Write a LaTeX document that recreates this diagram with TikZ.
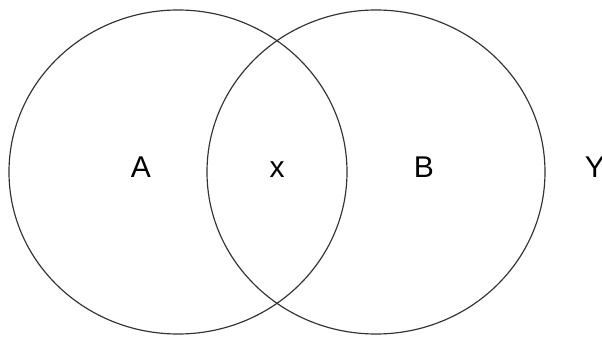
\documentclass[tikz,border=0pt]{standalone}
\usepackage{fontspec}
\setmainfont{Liberation Sans}
\usetikzlibrary{shapes.geometric}
\tikzset{
  setcirc/.style={ellipse, draw=black!80, line width=1pt, minimum width=10.14cm, minimum height=9.72cm, inner sep=0pt},
  lbl/.style={anchor=base, inner sep=0pt, font=\fontsize{25.6}{30}\selectfont},
}
\begin{document}
\begin{tikzpicture}[x=0.03cm, y=-0.03cm]
    \useasboundingbox (0,0) rectangle (602,337);
    % the two sets
    \node[setcirc] (setA) at (178,172) {};
    \node[setcirc] (setB) at (376,172) {};
    % labels
    \node[lbl] (labA) at (141,177) {A};
    \node[lbl] (labX) at (277,177) {x};
    \node[lbl] (labB) at (424,177) {B};
    \node[lbl] (labY) at (595,177) {Y};
  \end{tikzpicture}
\end{document}
